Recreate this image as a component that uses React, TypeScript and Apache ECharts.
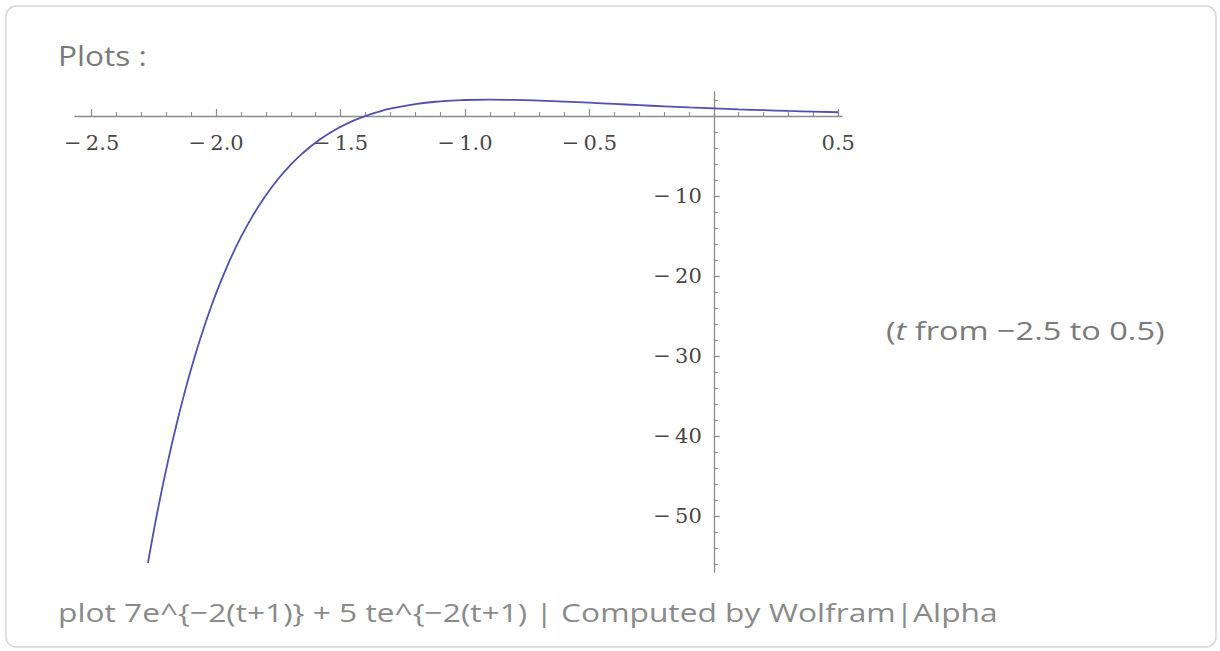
import React, { useEffect, useRef } from "react";
import * as echarts from "echarts";

const tValues = [
  -2.274, -2.25, -2.225, -2.2, -2.175, -2.15, -2.125, -2.1, -2.075, -2.05, -2.025, -2.0,
  -1.95, -1.9, -1.85, -1.8, -1.75, -1.7, -1.65, -1.6, -1.55, -1.5, -1.45, -1.4, -1.35,
  -1.3, -1.2, -1.1, -1.0, -0.9, -0.8, -0.7, -0.6, -0.5, -0.4, -0.3, -0.2, -0.1, 0.0,
  0.1, 0.2, 0.3, 0.4, 0.5,
];
const fValues = [
  -55.9, -51.78, -47.8, -44.09, -40.63, -37.4, -34.39, -31.59, -28.97, -26.54, -24.28, -22.17,
  -18.39, -15.12, -12.32, -9.91, -7.84, -6.08, -4.59, -3.32, -2.25, -1.36, -0.61, 0.0, 0.5,
  0.91, 1.49, 1.83, 2.0, 2.05, 2.01, 1.92, 1.8, 1.66, 1.51, 1.36, 1.21, 1.07, 0.95,
  0.83, 0.73, 0.63, 0.55, 0.47,
];

// Axis ticks and labels
const xMajorTicks = [-2.5, -2.0, -1.5, -1.0, -0.5, 0.5];
const xMinorTicks = [
  -2.4, -2.3, -2.2, -2.1, -1.9, -1.8, -1.7, -1.6, -1.4, -1.3, -1.2, -1.1,
  -0.9, -0.8, -0.7, -0.6, -0.4, -0.3, -0.2, -0.1, 0.1, 0.2, 0.3, 0.4,
];
const yMajorTicks = [-50, -40, -30, -20, -10];
const yMinorTicks = [
  -56, -54, -52, -48, -46, -44, -42, -38, -36, -34, -32, -28, -26, -24, -22,
  -18, -16, -14, -12, -8, -6, -4, -2, 2,
];

const X_MIN = -2.567;
const X_MAX = 0.515;
const Y_MIN = -57;
const Y_MAX = 3;

const GRID_LEFT = 75;
const GRID_RIGHT = 378;
const GRID_TOP = 92;
const GRID_BOTTOM = 79;
const W = 1220;
const H = 651;
const GRID_W = W - GRID_LEFT - GRID_RIGHT;
const GRID_H = H - GRID_TOP - GRID_BOTTOM;
// Move the axes so they cross at (0, 0) of the data scales
const X_AXIS_OFFSET = -((0 - Y_MIN) / (Y_MAX - Y_MIN)) * GRID_H;
const Y_AXIS_OFFSET = -((0 - X_MIN) / (X_MAX - X_MIN)) * GRID_W;

const AXIS_COLOR = "#8a8a8a";
const LABEL_FONT = "DejaVu Serif";
const TEXT_FONT = "Open Sans";

const fmt = (v: number, digits: number) =>
  v < 0 ? "\u2212\u2009" + Math.abs(v).toFixed(digits) : v.toFixed(digits);

export default function App() {
  const ref = useRef<HTMLDivElement>(null);

  useEffect(() => {
    if (!ref.current) return;
    const chart = echarts.init(ref.current, undefined, { renderer: "svg" });
    const data = tValues.map((t, i) => [t, fValues[i]]);

    const labelStyle = {
      fontFamily: LABEL_FONT,
      fontSize: 21,
      color: "#474747",
    };

    const xBase = {
      type: "value",
      min: X_MIN,
      max: X_MAX,
      position: "bottom",
      offset: X_AXIS_OFFSET,
      splitLine: { show: false },
    };
    const yBase = {
      type: "value",
      min: Y_MIN,
      max: Y_MAX,
      position: "left",
      offset: Y_AXIS_OFFSET,
      splitLine: { show: false },
    };

    chart.setOption({
      animation: false,
      backgroundColor: "#ffffff",
      grid: {
        left: GRID_LEFT,
        right: GRID_RIGHT,
        top: GRID_TOP,
        bottom: GRID_BOTTOM,
        containLabel: false,
      },
      xAxis: [
        {
          ...xBase,
          axisLine: {
            show: true,
            onZero: false,
            lineStyle: { color: AXIS_COLOR, width: 1.3 },
          },
          axisTick: {
            show: true,
            inside: true,
            length: 7,
            customValues: xMajorTicks,
            lineStyle: { color: AXIS_COLOR, width: 1.2 },
          },
          axisLabel: {
            show: true,
            customValues: xMajorTicks,
            margin: 16,
            formatter: (v: number) => fmt(v, 1),
            ...labelStyle,
          },
        },
        {
          ...xBase,
          axisLine: {
            show: true,
            onZero: false,
            lineStyle: { color: AXIS_COLOR, opacity: 0 },
          },
          axisTick: {
            show: true,
            inside: true,
            length: 4,
            customValues: xMinorTicks,
            lineStyle: { color: AXIS_COLOR, width: 1.1 },
          },
          axisLabel: { show: false },
        },
      ],
      yAxis: [
        {
          ...yBase,
          axisLine: {
            show: true,
            onZero: false,
            lineStyle: { color: AXIS_COLOR, width: 1.3 },
          },
          axisTick: {
            show: true,
            inside: true,
            length: 6,
            customValues: yMajorTicks,
            lineStyle: { color: AXIS_COLOR, width: 1.2 },
          },
          axisLabel: {
            show: true,
            customValues: yMajorTicks,
            margin: 12,
            formatter: (v: number) => fmt(v, 0),
            ...labelStyle,
          },
        },
        {
          ...yBase,
          axisLine: {
            show: true,
            onZero: false,
            lineStyle: { color: AXIS_COLOR, opacity: 0 },
          },
          axisTick: {
            show: true,
            inside: true,
            length: 4,
            customValues: yMinorTicks,
            lineStyle: { color: AXIS_COLOR, width: 1.1 },
          },
          axisLabel: { show: false },
        },
      ],
      series: [
        {
          type: "line",
          xAxisIndex: 0,
          yAxisIndex: 0,
          data,
          showSymbol: false,
          smooth: 0.5,
          lineStyle: { color: "#5050ad", width: 1.8 },
          z: 3,
        },
      ],
      graphic: [
        {
          type: "rect",
          silent: true,
          z: -10,
          shape: { x: 6, y: 6, width: 1210, height: 641, r: 10 },
          style: { fill: "rgba(0,0,0,0)", stroke: "#d6d6d6", lineWidth: 1.5 },
        },
        {
          type: "text",
          silent: true,
          x: 58,
          y: 55,
          scaleX: 1.13,
          style: {
            x: 0,
            y: 0,
            text: "Plots :",
            align: "left",
            verticalAlign: "middle",
            fontFamily: TEXT_FONT,
            fontSize: 28,
            fill: "#7a7a7a",
          },
        },
        {
          type: "text",
          silent: true,
          x: 886,
          y: 330,
          scaleX: 1.25,
          style: {
            x: 0,
            y: 0,
            text: "({i|t} from \u22122.5 to 0.5)",
            align: "left",
            verticalAlign: "middle",
            fontFamily: TEXT_FONT,
            fontSize: 26,
            fill: "#7a7a7a",
            rich: {
              i: {
                fontFamily: TEXT_FONT,
                fontSize: 26,
                fontStyle: "italic",
                fill: "#7a7a7a",
              },
            },
          },
        },
        {
          type: "text",
          silent: true,
          x: 58,
          y: 612,
          scaleX: 1.22,
          style: {
            x: 0,
            y: 0,
            text: "plot 7e^{\u22122(t+1)} + 5 te^{\u22122(t+1) | Computed by Wolfram|Alpha",
            align: "left",
            verticalAlign: "middle",
            fontFamily: TEXT_FONT,
            fontSize: 26,
            fill: "#8a8a8a",
          },
        },
      ],
    });

    return () => chart.dispose();
  }, []);

  return (
    <div
      ref={ref}
      style={{ position: "fixed", left: 0, top: 0, width: W, height: H }}
    />
  );
}
